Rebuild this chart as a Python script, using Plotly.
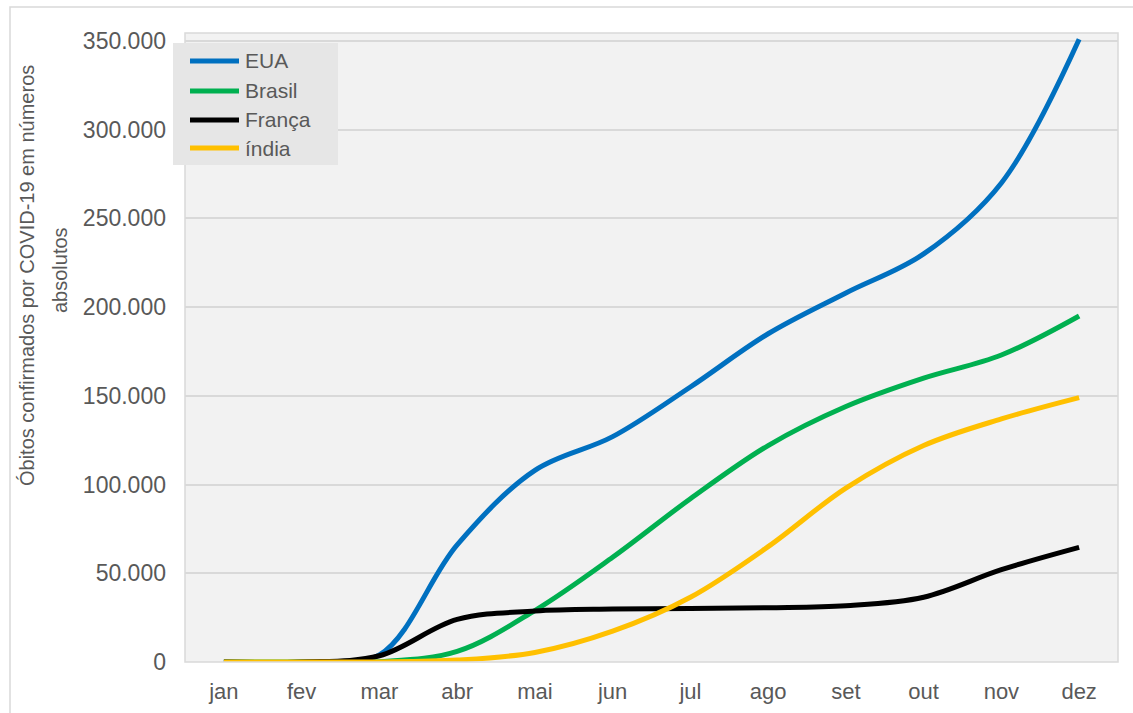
import plotly.graph_objects as go

# Month categories and cumulative confirmed COVID-19 deaths per country
months = ["jan", "fev", "mar", "abr", "mai", "jun", "jul", "ago", "set", "out", "nov", "dez"]
eua = [0, 1, 4000, 66000, 108000, 127000, 155000, 185000, 208000, 230000, 270000, 351000]
brasil = [0, 0, 200, 6000, 29000, 59000, 92000, 122000, 144000, 160000, 173000, 195000]
franca = [0, 2, 3500, 24000, 28700, 29800, 30200, 30600, 31700, 36500, 52000, 64600]
india = [0, 0, 35, 1100, 5400, 17400, 36500, 65000, 98000, 122000, 137000, 149000]

series = [
    ("EUA", eua, "#0070C0"),
    ("Brasil", brasil, "#00B050"),
    ("França", franca, "#000000"),
    ("índia", india, "#FFC000"),
]

tick_vals = [0, 50000, 100000, 150000, 200000, 250000, 300000, 350000]
tick_text = ["0", "50.000", "100.000", "150.000", "200.000", "250.000", "300.000", "350.000"]

W, H = 1133, 713
L, R, T, B = 185, 15, 33, 51
PW, PH = W - L - R, H - T - B

def px(x):
    return (x - L) / PW

def py(y):
    return (H - B - y) / PH

FONT = "Liberation Sans, Arial, sans-serif"
TXT = "#595959"
GRID = "#d9d9d9"

fig = go.Figure()
for name, vals, color in series:
    fig.add_trace(go.Scatter(
        x=months, y=vals, name=name, mode="lines",
        line=dict(color=color, width=5, shape="spline", smoothing=1.0),
        showlegend=False,
    ))

shapes = [
    # outer chart frame
    dict(type="rect", xref="paper", yref="paper", x0=px(10), x1=px(1140), y0=py(720), y1=py(7),
         line=dict(color=GRID, width=1.5), fillcolor="rgba(0,0,0,0)", layer="below"),
    # plot area frame
    dict(type="rect", xref="paper", yref="paper", x0=0, x1=1, y0=0, y1=1,
         line=dict(color=GRID, width=1.5), fillcolor="rgba(0,0,0,0)", layer="above"),
    # legend box background
    dict(type="rect", xref="paper", yref="paper", x0=px(173), x1=px(338), y0=py(165), y1=py(43),
         line=dict(width=0), fillcolor="#e6e6e6", layer="above"),
]

annotations = []
legend_y = [61, 91, 120, 148]
for (name, vals, color), ly in zip(series, legend_y):
    shapes.append(dict(type="line", xref="paper", yref="paper", x0=px(190), x1=px(239),
                       y0=py(ly), y1=py(ly), line=dict(color=color, width=5), layer="above"))
    annotations.append(dict(xref="paper", yref="paper", x=px(243), y=py(ly), text=name,
                            showarrow=False, xanchor="left", yanchor="middle",
                            font=dict(family=FONT, size=21, color=TXT)))

# two-line rotated y-axis title
annotations.append(dict(xref="paper", yref="paper", x=px(27), y=py(276),
                        text="Óbitos confirmados por COVID-19 em números", textangle=-90,
                        showarrow=False, xanchor="center", yanchor="middle",
                        font=dict(family=FONT, size=20, color=TXT)))
annotations.append(dict(xref="paper", yref="paper", x=px(60), y=py(270),
                        text="absolutos", textangle=-90,
                        showarrow=False, xanchor="center", yanchor="middle",
                        font=dict(family=FONT, size=20, color=TXT)))

fig.update_layout(
    width=W, height=H,
    margin=dict(l=L, r=R, t=T, b=B, pad=0),
    paper_bgcolor="white",
    plot_bgcolor="#f2f2f2",
    font=dict(family=FONT, color=TXT),
    shapes=shapes,
    annotations=annotations,
    xaxis=dict(
        type="category", categoryorder="array", categoryarray=months,
        range=[-0.5, 11.5], showgrid=False, zeroline=False, showline=False,
        ticks="", tickfont=dict(size=22, color=TXT), ticklabelstandoff=14,
        automargin=False,
    ),
    yaxis=dict(
        range=[0, 354500], tickvals=tick_vals, ticktext=tick_text,
        showgrid=True, gridcolor=GRID, gridwidth=1.5, zeroline=False, showline=False,
        ticks="", tickfont=dict(size=23, color=TXT), ticklabelstandoff=18,
        automargin=False,
    ),
)

fig.write_html("out.html")
